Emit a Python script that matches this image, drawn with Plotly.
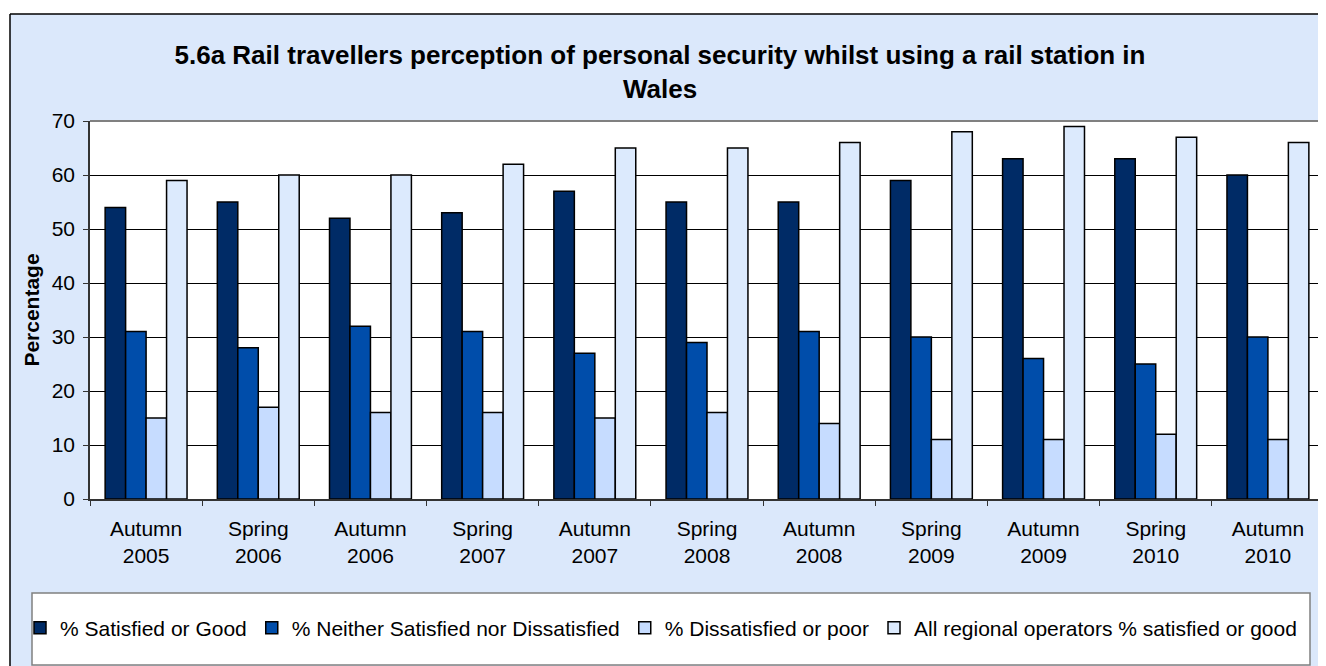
import plotly.graph_objects as go

# ---- data ----
periods = ["Autumn<br>2005", "Spring<br>2006", "Autumn<br>2006", "Spring<br>2007",
           "Autumn<br>2007", "Spring<br>2008", "Autumn<br>2008", "Spring<br>2009",
           "Autumn<br>2009", "Spring<br>2010", "Autumn<br>2010"]
satisfied = [54, 55, 52, 53, 57, 55, 55, 59, 63, 63, 60]
neither = [31, 28, 32, 31, 27, 29, 31, 30, 26, 25, 30]
dissatisfied = [15, 17, 16, 16, 15, 16, 14, 11, 11, 12, 11]
all_regional = [59, 60, 60, 62, 65, 65, 66, 68, 69, 67, 66]

series_names = ["% Satisfied or Good", "% Neither Satisfied nor Dissatisfied",
                "% Dissatisfied or poor", "All regional operators % satisfied or good"]
series_values = [satisfied, neither, dissatisfied, all_regional]
series_colors = ["#002B66", "#004DAA", "#C6DCFF", "#DCEAFD"]

y_ticks = [0, 10, 20, 30, 40, 50, 60, 70]

FONT = "Liberation Sans, Arial, sans-serif"
BG = "#DBE8FB"

# ---- geometry (screen pixels; page has an 8px body margin) ----
OFF = 8
SCREEN_W, SCREEN_H = 1326, 666
W, H = SCREEN_W - OFF, SCREEN_H - OFF
SL, SR, ST, SB = 90, 1324, 121, 499          # plot area on screen
def px(x):
    return (x - SL) / (SR - SL)
def py(y):
    return (SB - y) / (SB - ST)

fig = go.Figure()
for name, vals, col in zip(series_names, series_values, series_colors):
    fig.add_trace(go.Bar(
        x=periods, y=vals, name=name,
        marker=dict(color=col, line=dict(color="#000000", width=1.5)),
    ))

shapes = [
    # white strips outside the outer chart box
    dict(type="rect", xref="paper", yref="paper", x0=px(0), x1=px(10), y0=py(SCREEN_H + 20), y1=py(0),
         fillcolor="white", line=dict(width=0), layer="below"),
    dict(type="rect", xref="paper", yref="paper", x0=px(0), x1=px(SCREEN_W + 20), y0=py(14), y1=py(0),
         fillcolor="white", line=dict(width=0), layer="below"),
    # outer box border
    dict(type="line", xref="paper", yref="paper", x0=px(10), x1=px(10), y0=py(SCREEN_H + 20), y1=py(14),
         line=dict(color="black", width=1.5)),
    dict(type="line", xref="paper", yref="paper", x0=px(10), x1=px(SCREEN_W + 20), y0=py(14), y1=py(14),
         line=dict(color="black", width=1.5)),
    # legend box
    dict(type="rect", xref="paper", yref="paper", x0=px(32), x1=px(1310), y0=py(665), y1=py(593),
         fillcolor="white", line=dict(color="#808080", width=1.5), layer="below"),
    # plot area top/right border
    dict(type="line", xref="paper", yref="paper", x0=0, x1=1, y0=1, y1=1,
         line=dict(color="#808080", width=2), layer="above"),
    dict(type="line", xref="paper", yref="paper", x0=1, x1=1, y0=0, y1=1,
         line=dict(color="#808080", width=2), layer="above"),
]

fig.update_layout(
    width=W, height=H,
    margin=dict(l=SL - OFF, r=W - (SR - OFF), t=ST - OFF, b=H - (SB - OFF), autoexpand=False),
    paper_bgcolor=BG, plot_bgcolor="white",
    font=dict(family=FONT, size=21, color="black"),
    barmode="group", bargap=0.27, bargroupgap=0,
    title=dict(
        text="5.6a Rail travellers perception of personal security whilst using a rail station in<br>Wales",
        font=dict(family=FONT, size=26, color="black", weight="bold"),
        xref="paper", x=px(660), xanchor="center",
        yref="container", y=1 - (64 - OFF) / H, yanchor="middle",
    ),
    xaxis=dict(
        type="category", showgrid=False,
        showline=True, linecolor="#333333", linewidth=1.5,
        ticks="outside", tickson="boundaries", ticklen=5, tickcolor="#333333",
        ticklabelstandoff=10,
        tickfont=dict(family=FONT, size=21, color="black"),
    ),
    yaxis=dict(
        range=[0, 70], tickvals=y_ticks, ticktext=[str(v) for v in y_ticks],
        showgrid=True, gridcolor="#000000", gridwidth=1,
        showline=True, linecolor="#333333", linewidth=1.5,
        ticks="outside", ticklen=5, tickcolor="#333333",
        ticklabelstandoff=4, zeroline=False,
        tickfont=dict(family=FONT, size=21, color="black"),
        title=dict(text="Percentage", standoff=6,
                   font=dict(family=FONT, size=21, color="black", weight="bold")),
    ),
    legend=dict(
        orientation="h", x=px(20), xanchor="left", y=py(628), yanchor="middle",
        bgcolor="rgba(0,0,0,0)", borderwidth=0, itemwidth=30,
        font=dict(family=FONT, size=21, color="black"),
        traceorder="normal",
    ),
    shapes=shapes,
)

fig.write_html("out.html")
